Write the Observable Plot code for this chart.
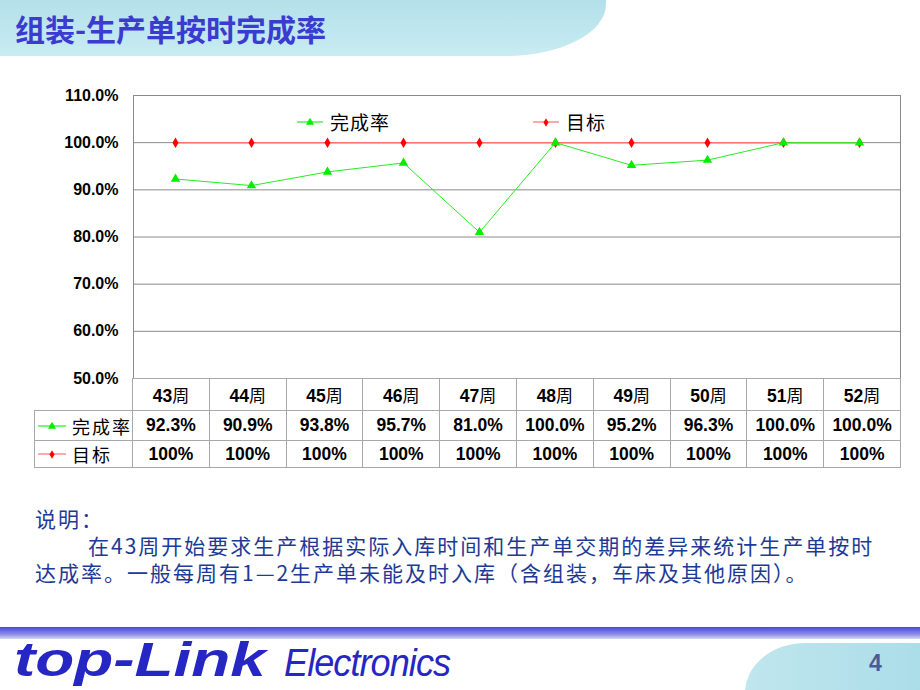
<!DOCTYPE html>
<html><head><meta charset="utf-8">
<script src="https://cdn.jsdelivr.net/npm/d3@7"></script>
<script src="https://cdn.jsdelivr.net/npm/@observablehq/plot@0.6"></script>
<style>
html,body{margin:0;padding:0;background:#fff;}
#page{position:relative;width:920px;height:690px;overflow:hidden;background:#fff;font-family:"Liberation Sans",Arial,sans-serif;}
#titleband{position:absolute;left:0;top:0;width:606px;height:56px;background:linear-gradient(180deg,#b4e0ea,#c8ecf2);border-bottom-right-radius:100px 52px;}
#title{position:absolute;left:15px;top:6px;font-family:"Noto Sans CJK SC",sans-serif;font-weight:bold;font-size:30px;color:#3b3bcf;}
#chart{position:absolute;left:0;top:80px;}
#legend{position:absolute;top:108px;left:0;font-family:"Noto Sans CJK SC",sans-serif;font-size:19px;color:#000;}
.lg{position:absolute;display:flex;align-items:center;white-space:nowrap;}
#tbl{position:absolute;left:34px;top:378px;border-collapse:collapse;table-layout:fixed;}
#tbl td{border:1px solid #a8a8a8;text-align:center;padding:0;font-family:"Liberation Sans",Arial,sans-serif;font-weight:bold;font-size:17.5px;color:#000;white-space:nowrap;}
#tbl td.lab{text-align:left;font-family:"Noto Sans CJK SC",sans-serif;font-weight:normal;font-size:18px;}
#tbl td.blank{border:none;border-right:1px solid #a8a8a8;}
#note{position:absolute;left:35px;top:505px;font-family:"Noto Sans CJK SC",sans-serif;font-size:21px;letter-spacing:2px;color:#1c3a96;line-height:27px;white-space:nowrap;}
#band{position:absolute;left:0;top:627px;width:920px;height:12px;background:linear-gradient(180deg,#4848d8,#8c8ce8 60%,#d8d8f4);}
#logo{position:absolute;left:14px;top:633px;font-family:"Liberation Sans",Arial,sans-serif;font-style:italic;font-weight:bold;font-size:48px;line-height:54px;color:#2626c4;transform:scaleX(1.33);transform-origin:left;white-space:nowrap;}
#logo2{position:absolute;left:284px;top:642px;font-family:"Liberation Sans",Arial,sans-serif;font-style:italic;font-size:38px;color:#2626c4;letter-spacing:-1px;transform:scaleX(0.95);transform-origin:left;white-space:nowrap;}
#pn{position:absolute;left:745px;top:643px;width:200px;height:60px;background:linear-gradient(90deg,#c0e6ee,#a8dce8);border-top-left-radius:60px 50px;}
#pnum{position:absolute;left:869px;top:650px;font-family:"Liberation Sans",Arial,sans-serif;font-weight:bold;font-size:23px;color:#4a5a9a;}
</style></head>
<body><div id="page">
<div id="titleband"></div>
<div id="title">组装-生产单按时完成率</div>
<div id="chart"></div>
<div id="legend"></div>
<table id="tbl"></table>
<div id="note">说明：<br><span style="padding-left:53px">在43周开始要求生产根据实际入库时间和生产单交期的差异来统计生产单按时</span><br>达成率。一般每周有1—2生产单未能及时入库（含组装，车床及其他原因）。</div>
<div id="band"></div>
<div id="logo">top-Link</div>
<div id="logo2">Electronics</div>
<div id="pn"></div>
<div id="pnum">4</div>
</div>
<script>
const weeks = ["43周","44周","45周","46周","47周","48周","49周","50周","51周","52周"];
const actual = [92.3, 90.9, 93.8, 95.7, 81.0, 100.0, 95.2, 96.3, 100.0, 100.0];
const target = [100, 100, 100, 100, 100, 100, 100, 100, 100, 100];
const yTicks = [50, 60, 70, 80, 90, 100, 110];
const seriesNames = ["完成率", "目标"];
const seriesColors = {line: ["#22ee22", "#ff7070"], dot: ["#00ee00", "#ff0000"]};
const seriesSymbols = ["triangle", "diamond"];

const actData = weeks.map((w, i) => ({week: w, v: actual[i]}));
const tgtData = weeks.map((w, i) => ({week: w, v: target[i]}));

const chart = Plot.plot({
  width: 920, height: 312,
  marginLeft: 133, marginRight: 20, marginTop: 15, marginBottom: 14,
  x: {type: "band", domain: weeks, padding: 0, axis: null},
  y: {domain: [50, 110], ticks: yTicks, label: null, axis: null},
  style: {fontFamily: "Liberation Sans, Arial, sans-serif", fontSize: "15px", fontWeight: "bold", color: "#000", background: "transparent", overflow: "visible"},
  marks: [
    Plot.gridY(yTicks, {stroke: "#8a8a8a", strokeOpacity: 1, strokeWidth: 1}),
    Plot.frame({stroke: "#8a8a8a"}),
    Plot.axisY({ticks: yTicks, label: null, tickSize: 0, tickPadding: 15, tickFormat: d => d.toFixed(1) + "%", fontWeight: "bold", fontSize: 16}),
    Plot.line(tgtData, {x: "week", y: "v", stroke: seriesColors.line[1], strokeWidth: 1.5}),
    Plot.dot(tgtData, {x: "week", y: "v", symbol: seriesSymbols[1], fill: seriesColors.dot[1], r: 3.2}),
    Plot.line(actData, {x: "week", y: "v", stroke: seriesColors.line[0], strokeWidth: 1}),
    Plot.dot(actData, {x: "week", y: "v", symbol: seriesSymbols[0], fill: seriesColors.dot[0], r: 3.5})
  ]
});
document.getElementById("chart").appendChild(chart);

function swatch(i, w) {
  const ns = "http://www.w3.org/2000/svg";
  const s = document.createElementNS(ns, "svg");
  s.setAttribute("width", w); s.setAttribute("height", 12);
  const l = document.createElementNS(ns, "line");
  l.setAttribute("x1", 0); l.setAttribute("x2", w); l.setAttribute("y1", 6); l.setAttribute("y2", 6);
  l.setAttribute("stroke", seriesColors.line[i]); l.setAttribute("stroke-width", 1.2);
  s.appendChild(l);
  const p = document.createElementNS(ns, "path");
  const sym = i === 0 ? d3.symbolTriangle : d3.symbolDiamond;
  p.setAttribute("d", d3.symbol(sym, i === 0 ? 28 : 22)());
  p.setAttribute("transform", `translate(${w/2},6.5)`);
  p.setAttribute("fill", seriesColors.dot[i]);
  s.appendChild(p);
  return s;
}

const lg = document.getElementById("legend");
[[297, 0], [533, 1]].forEach(([x, i]) => {
  const d = document.createElement("div");
  d.className = "lg"; d.style.left = x + "px";
  d.appendChild(swatch(i, 26));
  const t = document.createElement("span");
  t.textContent = seriesNames[i]; t.style.marginLeft = "7px"; t.style.letterSpacing = "1px";
  d.appendChild(t);
  lg.appendChild(d);
});

const tbl = document.getElementById("tbl");
const cg = document.createElement("colgroup");
const colW = [98].concat(weeks.map(() => 76.8));
colW.forEach(w => { const c = document.createElement("col"); c.style.width = w + "px"; cg.appendChild(c); });
tbl.appendChild(cg);
const hdr = document.createElement("tr"); hdr.style.height = "32px";
const b = document.createElement("td"); b.className = "blank"; hdr.appendChild(b);
weeks.forEach(w => {
  const td = document.createElement("td");
  const num = w.replace("周", "");
  td.innerHTML = `${num}<span style="font-family:'Noto Sans CJK SC';font-weight:normal;font-size:17px">周</span>`;
  hdr.appendChild(td);
});
tbl.appendChild(hdr);
const rows = [
  {i: 0, vals: actual.map(v => v.toFixed(1) + "%"), h: 30},
  {i: 1, vals: target.map(v => v + "%"), h: 27}
];
rows.forEach(r => {
  const tr = document.createElement("tr"); tr.style.height = r.h + "px";
  const lab = document.createElement("td"); lab.className = "lab";
  const wrap = document.createElement("div");
  wrap.style.display = "flex"; wrap.style.alignItems = "center"; wrap.style.paddingLeft = "3px";
  wrap.appendChild(swatch(r.i, 28));
  const t = document.createElement("span"); t.textContent = seriesNames[r.i];
  t.style.marginLeft = "6px"; t.style.letterSpacing = "2px";
  wrap.appendChild(t);
  lab.appendChild(wrap);
  tr.appendChild(lab);
  r.vals.forEach(v => { const td = document.createElement("td"); td.textContent = v; tr.appendChild(td); });
  tbl.appendChild(tr);
});
</script>
</body></html>
